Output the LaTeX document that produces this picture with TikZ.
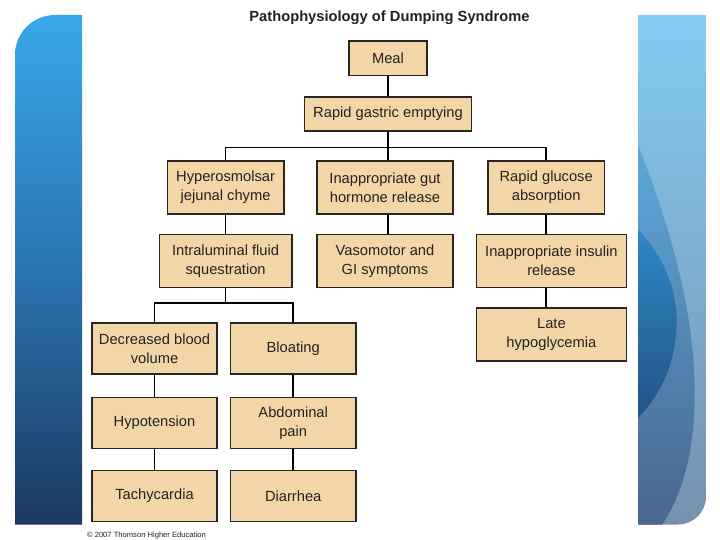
\documentclass[tikz,border=0pt]{standalone}
\usepackage{fontspec}
\setmainfont{Liberation Sans}
\definecolor{boxfill}{HTML}{F3D6A8}
\definecolor{boxline}{HTML}{2A2520}
\definecolor{txt}{HTML}{222222}
\definecolor{lbtop}{HTML}{38A8E8}
\definecolor{lbmid}{HTML}{2A74B0}
\definecolor{lbbot}{HTML}{1C3860}
\definecolor{rbtop}{HTML}{82CCF2}
\definecolor{rbbot}{HTML}{7890AE}
\definecolor{rmtop}{HTML}{5CA8DC}
\definecolor{rmbot}{HTML}{4A668E}
\definecolor{rdtop}{HTML}{2E88C6}
\definecolor{rdbot}{HTML}{225386}
\begin{document}
\begin{tikzpicture}[x=1pt,y=-1pt,
  box/.style={draw=boxline, line width=1.5pt, fill=boxfill, inner sep=0pt, align=center,
    font=\fontsize{14.7}{19}\selectfont, text=txt},
  wh/.style 2 args={minimum width=#1pt, minimum height=#2pt},
  conn/.style={draw=black, line width=1.6pt}]
\useasboundingbox (0,0) rectangle (720,540);
\fill[white] (0,0) rectangle (720,540);
% left panel
\shade[top color=lbtop, bottom color=lbbot, middle color=lbmid]
  (82,15) [rounded corners=40pt]-- (15,15) [sharp corners]-- (15,524.5) -- (82,524.5) -- cycle;
% right panel
\begin{scope}
\clip (638,15) -- (706,15) [rounded corners=28pt]-- (706,524.5) [sharp corners]-- (638,524.5) -- cycle;
\shade[top color=rbtop, bottom color=rbbot] (638,15) rectangle (706,524.5);
\shade[top color=rmtop, bottom color=rmbot]
  (638,145) .. controls (662,205) and (690,290) .. (694,370)
  .. controls (698,440) and (685,490) .. (662,525) -- (638,525) -- cycle;
\shade[top color=rdtop, bottom color=rdbot]
  (638,230) .. controls (668,260) and (680,300) .. (676,335)
  .. controls (672,375) and (655,400) .. (638,418) -- cycle;
\end{scope}
% title
\node[font=\bfseries\fontsize{14.7}{17}\selectfont, text=txt] (title) at (389.5,17.4) {Pathophysiology of Dumping Syndrome};
% boxes
\node[box, wh={78}{34.5}] (meal) at (388,58.5) {Meal};
\node[box, wh={167.2}{34.1}] (rge) at (388,114.2) {Rapid gastric emptying};
\node[box, wh={116.6}{53}] (hyp) at (225.6,187.7) {Hyperosmolsar\\jejunal chyme};
\node[box, wh={136}{53}] (gut) at (385,187.7) {Inappropriate gut\\hormone release};
\node[box, wh={116.6}{53}] (glu) at (546.2,187.7) {Rapid glucose\\absorption};
\node[box, wh={132.3}{52.7}] (intra) at (225.6,260.9) {Intraluminal fluid\\squestration};
\node[box, wh={136}{52.7}] (vaso) at (385,260.9) {Vasomotor and\\GI symptoms};
\node[box, wh={149.7}{52.7}] (ins) at (551.4,260.9) {Inappropriate insulin\\release};
\node[box, wh={149.7}{52.8}] (late) at (551.4,334.6) {Late\\hypoglycemia};
\node[box, wh={125.4}{51.3}] (dec) at (154.5,348.4) {Decreased blood\\volume};
\node[box, wh={125.4}{51.3}] (bloat) at (293.2,348.4) {Bloating};
\node[box, wh={125.4}{51}] (hypo) at (154.5,422.9) {Hypotension};
\node[box, wh={125.4}{51}] (abd) at (293.2,422.9) {Abdominal\\pain};
\node[box, wh={125.4}{51}] (tachy) at (154.5,495.9) {Tachycardia};
\node[box, wh={125.4}{51}] (diar) at (293.2,495.9) {Diarrhea};
% copyright
\node[font=\fontsize{7.6}{8}\selectfont, text=txt] (copy) at (146.5,536) {\textcopyright{} 2007 Thomson Higher Education};
% connectors
\coordinate (b1) at (388,147.5);
\coordinate (b2) at (225.6,303);
\draw[conn] (meal) -- (rge);
\draw[conn] (rge.south) -- (b1);
\draw[conn] (hyp.north) |- (b1) -| (glu.north);
\draw[conn] (b1) -- (b1 |- gut.north);
\draw[conn] (hyp) -- (intra);
\draw[conn] (gut.south -| b1) -- (vaso.north -| b1);
\draw[conn] (glu.south) -- (glu.south |- ins.north);
\draw[conn] (ins.south -| glu.south) -- (late.north -| glu.south);
\draw[conn] (intra.south) -- (b2);
\draw[conn] (dec.north) |- (b2) -| (bloat.north);
\draw[conn] (dec) -- (hypo);
\draw[conn] (hypo) -- (tachy);
\draw[conn] (bloat) -- (abd);
\draw[conn] (abd) -- (diar);
\end{tikzpicture}
\end{document}
